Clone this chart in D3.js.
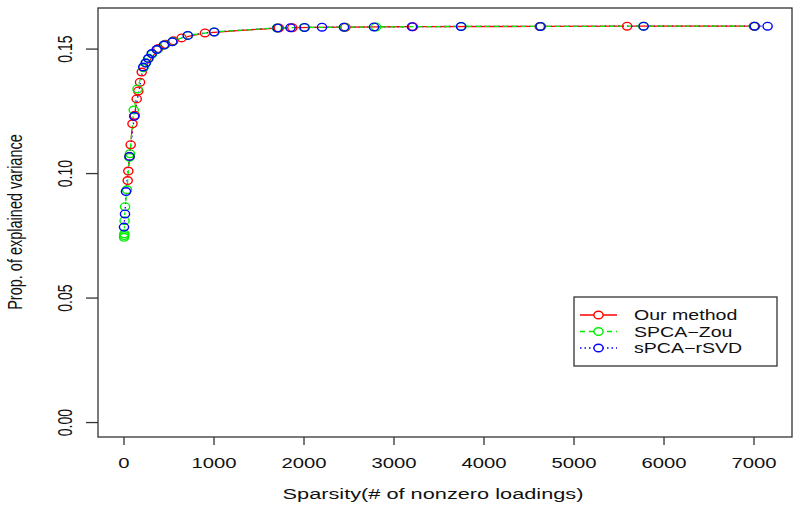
<!DOCTYPE html>
<html>
<head>
<meta charset="utf-8">
<script src="https://cdn.jsdelivr.net/npm/d3@7"></script>
<style>
  body { margin: 0; background: #fff; }
  svg text { font-family: "Liberation Sans", Arial, sans-serif; fill: #111; }
</style>
</head>
<body>
<div id="chart"></div>
<script>
// values
const ourX = [41, 48, 61, 74, 94, 119, 141, 159, 178, 197, 381, 459, 548, 641, 900,
  1720, 1870, 2460, 3210, 4620, 5590, 7000];
const ourY = [0.0972, 0.1010, 0.1069, 0.1116, 0.1200, 0.1234, 0.1300, 0.1332, 0.1367, 0.1408,
  0.1502, 0.1519, 0.1533, 0.1545, 0.1565, 0.1585, 0.1586, 0.1588, 0.1590, 0.1591, 0.1592, 0.1592];

const zouX = [0, 2, 4, 6, 12, 33, 60, 66, 108, 150, 215, 245, 275, 312, 370, 450, 540, 710,
  1000, 1700, 2000, 2450, 2800, 3750, 4630, 5770, 7010];
const zouY = [0.0744, 0.0751, 0.0758, 0.0811, 0.0867, 0.0935, 0.1065, 0.1080, 0.1255, 0.1340,
  0.1425, 0.1445, 0.1463, 0.1480, 0.1498, 0.1516, 0.1530, 0.1555, 0.1569, 0.1585, 0.1587,
  0.1588, 0.1589, 0.1591, 0.1591, 0.1592, 0.1592];

const rsvdX = [0, 11, 22, 61, 114, 214, 241, 270, 308, 363, 444, 537, 708, 1003, 1706, 1850,
  2007, 2200, 2444, 2778, 3200, 3744, 4628, 5774, 7007, 7151];
const rsvdY = [0.0785, 0.0838, 0.0928, 0.1069, 0.1230, 0.1428, 0.1444, 0.1462, 0.1482, 0.1498,
  0.1516, 0.1529, 0.1555, 0.1569, 0.1585, 0.1586, 0.1587, 0.1588, 0.1588, 0.1589, 0.1590,
  0.1591, 0.1591, 0.1592, 0.1592, 0.1592];

const xTicks = [0, 1000, 2000, 3000, 4000, 5000, 6000, 7000];
const yTicks = [0, 0.05, 0.10, 0.15];
const seriesNames = ["Our method", "SPCA\u2212Zou", "sPCA\u2212rSVD"];
const xTitle = "Sparsity(# of nonzero loadings)";
const yTitle = "Prop. of explained variance";

const width = 800, height = 511;
const box = { left: 98, right: 792, top: 8, bottom: 437 };
const stretch = 1.45; // picture text looks widened

const svg = d3.select("#chart").append("svg")
    .attr("width", width)
    .attr("height", height);

const x = d3.scaleLinear().domain([-289, 7422]).range([box.left, box.right]);
const y = d3.scaleLinear().domain([-0.0058, 0.1665]).range([box.bottom, box.top]);

// frame
svg.append("rect")
    .attr("x", box.left).attr("y", box.top)
    .attr("width", box.right - box.left).attr("height", box.bottom - box.top)
    .attr("fill", "none").attr("stroke", "#333").attr("stroke-width", 1.3);

// x axis ticks + labels
svg.selectAll(".xtick").data(xTicks).enter().append("line")
    .attr("x1", d => x(d)).attr("x2", d => x(d))
    .attr("y1", box.bottom).attr("y2", box.bottom + 8)
    .attr("stroke", "#333").attr("stroke-width", 1.3);
svg.selectAll(".xlab").data(xTicks).enter().append("text")
    .attr("transform", d => `translate(${x(d)},468) scale(${stretch},1)`)
    .attr("text-anchor", "middle")
    .attr("font-size", 14)
    .text(d => d);

// y axis ticks + labels
svg.selectAll(".ytick").data(yTicks).enter().append("line")
    .attr("x1", box.left - 12).attr("x2", box.left)
    .attr("y1", d => y(d)).attr("y2", d => y(d))
    .attr("stroke", "#333").attr("stroke-width", 1.3);
svg.selectAll(".ylab").data(yTicks).enter().append("text")
    .attr("transform", d => `translate(72,${y(d)}) scale(${stretch},1) rotate(-90)`)
    .attr("text-anchor", "middle")
    .attr("font-size", 14)
    .text(d => d3.format(".2f")(d));

// titles
svg.append("text")
    .attr("transform", `translate(433,499) scale(${stretch},1)`)
    .attr("text-anchor", "middle")
    .attr("font-size", 15)
    .text(xTitle);
svg.append("text")
    .attr("transform", `translate(22,222) scale(${stretch},1) rotate(-90)`)
    .attr("text-anchor", "middle")
    .attr("font-size", 14.5)
    .text(yTitle);

const series = [
    { xs: ourX, ys: ourY, color: "#ff0000", dash: null },
    { xs: zouX, ys: zouY, color: "#00ee00", dash: "5,4" },
    { xs: rsvdX, ys: rsvdY, color: "#0000ff", dash: "1.5,3" }
];

const rx = 4.6, ry = 3.8, gap = 5.5;

const lineLayer = svg.append("g");
const pointLayer = svg.append("g");

// R type="b": line segments stop short of each point
function drawLines(s) {
    const pts = s.xs.map((v, i) => [x(v), y(s.ys[i])]);
    const segs = [];
    for (let i = 0; i < pts.length - 1; i++) {
        const [x1, y1] = pts[i], [x2, y2] = pts[i + 1];
        const dx = x2 - x1, dy = y2 - y1;
        const d = Math.sqrt(dx * dx + dy * dy);
        if (d > 2 * gap) {
            const ux = dx / d, uy = dy / d;
            segs.push([x1 + ux * gap, y1 + uy * gap, x2 - ux * gap, y2 - uy * gap]);
        }
    }
    lineLayer.append("g").selectAll("line").data(segs).enter().append("line")
        .attr("x1", d => d[0]).attr("y1", d => d[1])
        .attr("x2", d => d[2]).attr("y2", d => d[3])
        .attr("stroke", s.color).attr("stroke-width", 1.3)
        .attr("stroke-dasharray", s.dash);
}

function drawPoints(s) {
    pointLayer.append("g").selectAll("ellipse").data(s.xs).enter().append("ellipse")
        .attr("cx", d => x(d)).attr("cy", (d, i) => y(s.ys[i]))
        .attr("rx", rx).attr("ry", ry)
        .attr("fill", "none").attr("stroke", s.color).attr("stroke-width", 1.4);
}

// blue line sits under red, green dashes on top; blue circles drawn last
[series[2], series[0], series[1]].forEach(drawLines);
series.forEach(drawPoints);

// legend
const leg = svg.append("g");
leg.append("rect")
    .attr("x", 574).attr("y", 297).attr("width", 203).attr("height", 69)
    .attr("fill", "#fff").attr("stroke", "#333").attr("stroke-width", 1.3);
const legRows = leg.selectAll(".row").data(series).enter().append("g")
    .attr("transform", (d, i) => `translate(0,${315 + i * 16.5})`);
legRows.append("line")
    .attr("x1", 580).attr("x2", 617).attr("y1", 0).attr("y2", 0)
    .attr("stroke", d => d.color).attr("stroke-width", 1.3)
    .attr("stroke-dasharray", d => d.dash);
legRows.append("ellipse")
    .attr("cx", 598.5).attr("cy", 0).attr("rx", rx).attr("ry", ry)
    .attr("fill", "#fff").attr("stroke", d => d.color).attr("stroke-width", 1.4);
legRows.append("text")
    .attr("transform", `translate(634,5) scale(1.35,1)`)
    .attr("font-size", 14.5)
    .text((d, i) => seriesNames[i]);
</script>
</body>
</html>
